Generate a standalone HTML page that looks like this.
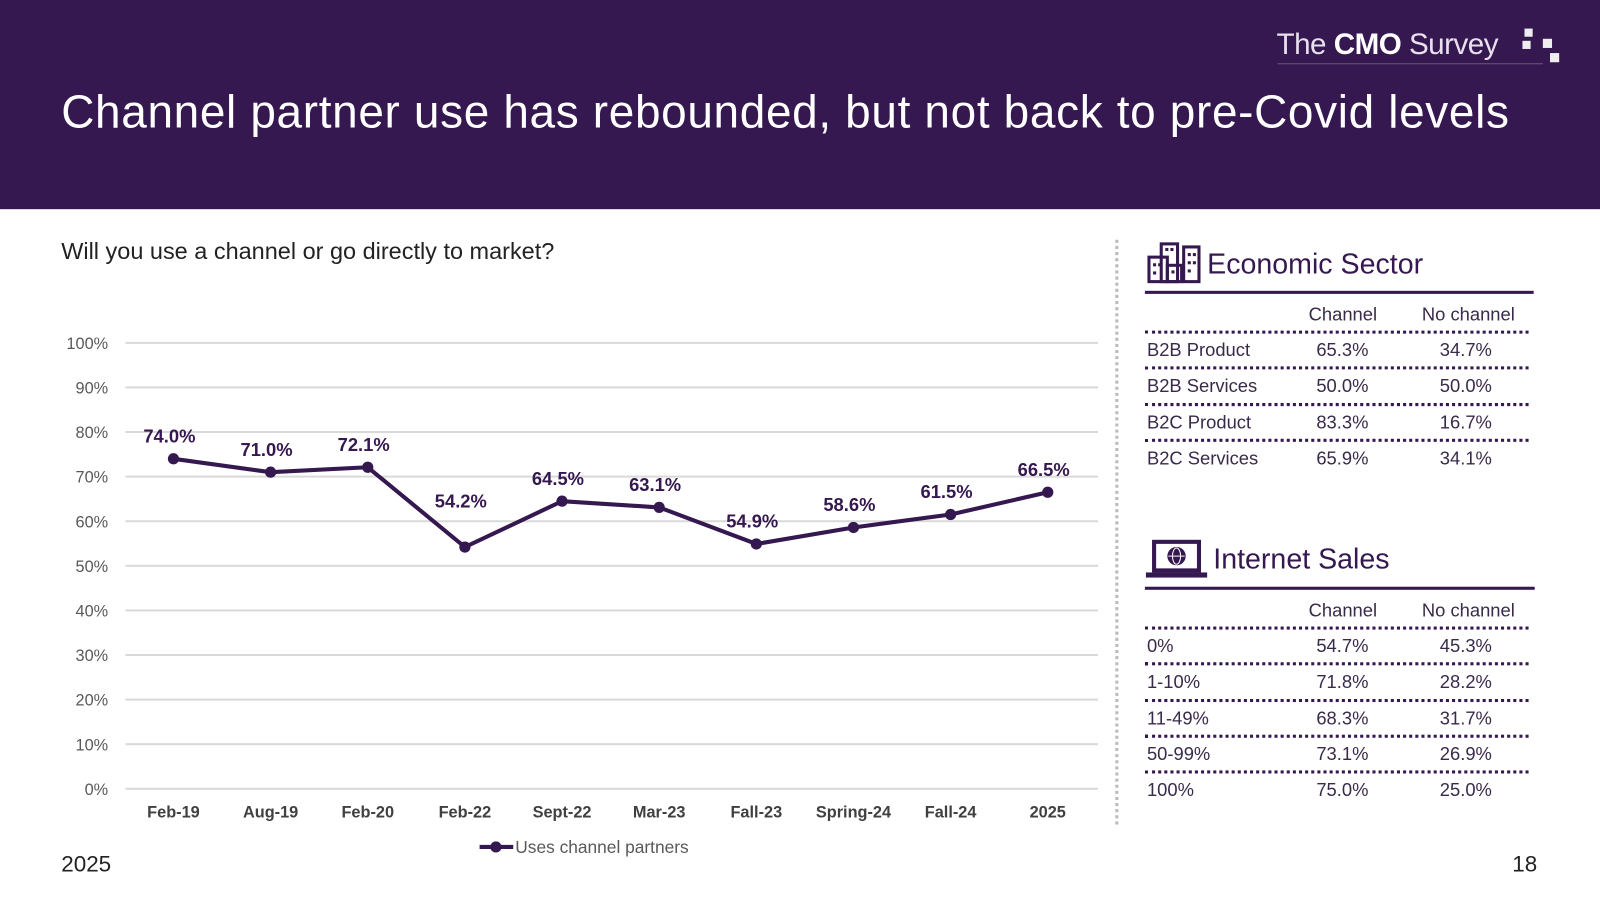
<!DOCTYPE html>
<html><head><meta charset="utf-8"><style>
body{margin:0;width:1600px;height:900px;overflow:hidden;background:#fff;font-family:"Liberation Sans",sans-serif}
#wrap{position:absolute;left:0;top:0;width:1568px;height:882px;transform:scale(1.020408);transform-origin:0 0}
.abs{position:absolute;white-space:nowrap}
.tbl{position:absolute;left:1122px;width:378px}
.tbl .row{position:absolute;left:0;width:378px;height:20px;font-size:18px;color:#3a2a4a}
.tbl .row span{position:absolute;top:0}
.dot{position:absolute;left:0;width:376px;border-top:3px dotted #35184f}
</style></head><body><div id="wrap">
<div class="abs" style="left:0;top:0;width:1568px;height:205px;background:#35184f"></div>
<div class="abs" style="left:60px;top:84px;font-size:45px;letter-spacing:0.65px;color:#fff">Channel partner use has rebounded, but not back to pre-Covid levels</div>
<div class="abs" style="left:1251px;top:28px;font-size:29px;color:#e8e0ee;letter-spacing:-0.5px"><span style="font-weight:300">The </span><b style="color:#fff">CMO</b><span> Survey</span></div>
<div class="abs" style="left:1492px;top:26px;width:40px;height:36px">
<div class="abs" style="left:2px;top:2px;width:8px;height:8px;background:#eee"></div>
<div class="abs" style="left:0;top:14px;width:8px;height:8px;background:#eee"></div>
<div class="abs" style="left:20px;top:12px;width:9px;height:9px;background:#eee"></div>
<div class="abs" style="left:27px;top:26px;width:9px;height:9px;background:#eee"></div></div>
<div class="abs" style="left:1252px;top:62px;width:260px;height:1px;background:#6a5a78"></div>
<div class="abs" style="left:60px;top:233px;font-size:23px;color:#222">Will you use a channel or go directly to market?</div>
<svg id="chart" class="abs" style="left:0;top:300px" width="1090" height="560"></svg>
<div class="abs" style="left:60px;top:834px;font-size:22px;color:#222">2025</div>
<div class="abs" style="left:1482px;top:834px;font-size:22px;color:#222">18</div>
<div class="abs" style="left:1093px;top:235px;height:573px;border-left:3px dotted #bbb"></div>

<svg class="abs" style="left:1124px;top:236px" width="54" height="42"><g fill="none" stroke="#35184f" stroke-width="3"><rect x="2" y="16" width="18" height="24"/><rect x="14" y="3" width="16" height="37"/><rect x="20" y="24" width="14" height="16"/><rect x="36" y="6" width="15" height="34"/></g><g fill="#35184f"><rect x="18" y="7" width="3" height="3"/><rect x="23" y="7" width="3" height="3"/><rect x="6" y="22" width="3" height="3"/><rect x="11" y="22" width="3" height="3"/><rect x="6" y="30" width="3" height="3"/><rect x="24" y="29" width="3" height="3"/><rect x="40" y="12" width="3" height="3"/><rect x="45" y="12" width="3" height="3"/><rect x="40" y="20" width="3" height="3"/><rect x="45" y="20" width="3" height="3"/><rect x="40" y="28" width="3" height="3"/></g></svg>
<div class="abs" style="left:1183px;top:243px;font-size:28px;color:#35184f">Economic Sector</div>
<div class="abs" style="left:1122px;top:285px;width:381px;height:3px;background:#35184f"></div>
<div class="tbl" id="t1"></div>

<svg class="abs" style="left:1122px;top:528px" width="62" height="42"><rect x="9" y="3" width="44" height="28" fill="none" stroke="#35184f" stroke-width="4"/><rect x="1" y="33" width="60" height="5" fill="#35184f"/><circle cx="31" cy="17" r="9" fill="#35184f"/><g stroke="#fff" stroke-width="1" fill="none"><ellipse cx="31" cy="17" rx="4" ry="8"/><line x1="23" y1="17" x2="39" y2="17"/></g></svg>
<div class="abs" style="left:1189px;top:532px;font-size:28px;color:#35184f">Internet Sales</div>
<div class="abs" style="left:1122px;top:575px;width:382px;height:3px;background:#35184f"></div>
<div class="tbl" id="t2"></div>
</div>
<script>
const categories=["Feb-19","Aug-19","Feb-20","Feb-22","Sept-22","Mar-23","Fall-23","Spring-24","Fall-24","2025"];
const values=[74.0,71.0,72.1,54.2,64.5,63.1,54.9,58.6,61.5,66.5];
const yTicks=[0,10,20,30,40,50,60,70,80,90,100];
const ns="http://www.w3.org/2000/svg";
const svg=document.getElementById('chart');
const oy=300;
const x=i=>170+i*95.2;
const y=v=>773-oy-v*4.37;
function mk(t,a,p){const e=document.createElementNS(ns,t);for(const k in a)e.setAttribute(k,a[k]);(p||svg).appendChild(e);return e;}
yTicks.forEach(t=>{
 const g=mk('line',{x1:123,x2:1076,y1:y(t),y2:y(t),stroke:'#d9d9d9','stroke-width':2});
 
 
 const l=mk('text',{x:106,y:y(t)+6,'text-anchor':'end','font-size':16,fill:'#595959'});
 l.textContent=t+'%';
 
 
});
categories.forEach((c,i)=>{
 const l=mk('text',{x:x(i),y:801-oy,'text-anchor':'middle','font-size':16,'font-weight':'bold',fill:'#404040'});
 l.textContent=c;
 
 
});
const path=mk('polyline',{points:values.map((v,i)=>x(i)+','+y(v)).join(' '),fill:'none',stroke:'#35184f','stroke-width':4,'stroke-linejoin':'round'});


values.forEach((v,i)=>{
 const c=mk('circle',{cx:x(i),cy:y(v),r:5.5,fill:'#35184f'});
 
 
 const off=(i===3)?39:16;
 const t=mk('text',{x:x(i)-4,y:y(v)-off,'text-anchor':'middle','font-size':18,'font-weight':'bold',fill:'#35184f'});
 t.textContent=v.toFixed(1)+'%';
 
 
});
const ll=mk('line',{x1:470,x2:503,y1:830-oy,y2:830-oy,stroke:'#35184f','stroke-width':4});


const lc=mk('circle',{cx:486,cy:830-oy,r:5.5,fill:'#35184f'});


const lt=mk('text',{x:505,y:836-oy,'font-size':17,fill:'#595959'});
lt.textContent='Uses channel partners';



function table(id,top,rows){
 const t=document.getElementById(id);t.style.top=top+'px';
 const rowH=35.3;
 const h=document.createElement('div');h.className='row';h.style.top='-10px';
 h.innerHTML='<span style="left:194px;width:0"><span style="transform:translateX(-50%);position:absolute">Channel</span></span><span style="left:317px"><span style="transform:translateX(-50%);position:absolute">No&nbsp;channel</span></span>';
 
 
 t.appendChild(h);
 rows.forEach((r,i)=>{
  const d=document.createElement('div');d.className='dot';d.style.top=(16+i*rowH)+'px';t.appendChild(d);
  const e=document.createElement('div');e.className='row';e.style.top=(25+i*rowH)+'px';
  e.innerHTML='<span style="left:2px">'+r[0]+'</span><span style="left:168px">'+r[1]+'</span><span style="left:289px">'+r[2]+'</span>';
  
  
  t.appendChild(e);
 });
}
table('t1',308,[["B2B Product","65.3%","34.7%"],["B2B Services","50.0%","50.0%"],["B2C Product","83.3%","16.7%"],["B2C Services","65.9%","34.1%"]]);
table('t2',598,[["0%","54.7%","45.3%"],["1-10%","71.8%","28.2%"],["11-49%","68.3%","31.7%"],["50-99%","73.1%","26.9%"],["100%","75.0%","25.0%"]]);
</script>
</body></html>
